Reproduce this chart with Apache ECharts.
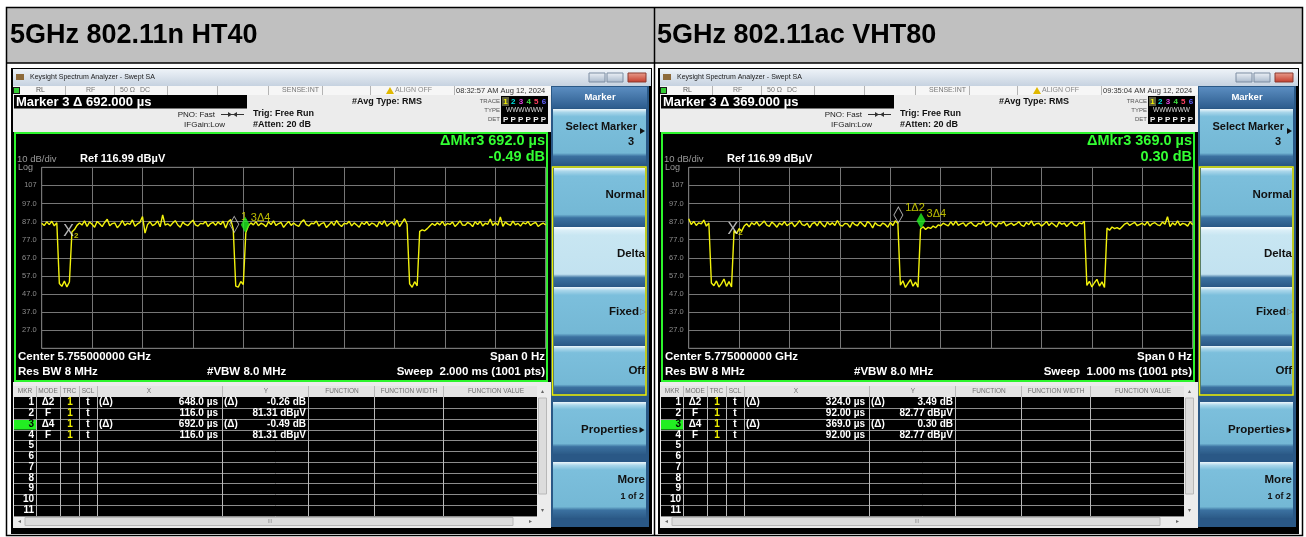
<!DOCTYPE html>
<html>
<head>
<meta charset="utf-8">
<title>5GHz 802.11n HT40 / 802.11ac VHT80</title>
<script src="https://cdn.jsdelivr.net/npm/echarts@6/dist/echarts.min.js"></script>
<style>
  html, body { margin: 0; padding: 0; background: #fff; }
  #chart { width: 1306px; height: 537px; }
</style>
</head>
<body>
<div id="chart"></div>
<script>
// ---------- data ----------
const refLevel = 116.99;          // dBµV, top of the screen
const dbPerDiv = 10;
const bottomLevel = refLevel - 10 * dbPerDiv;

// HT40, 2.000 ms sweep, trace sampled every 10 µs
const htSweepMs = 2.0;
const htTrace = [
  86.1, 84.8, 86.9, 85.3, 87.2, 84.6, 86.4, 52.8, 51.2, 54.1,
  50.9, 53.6, 81.3, 82.6, 84.9, 86.2, 85.1, 87.4, 84.3, 86.8,
  85.5, 83.9, 87.1, 85.8, 84.2, 86.5, 88.3, 84.7, 85.9, 86.3,
  83.6, 85.2, 87.6, 84.9, 86.1, 85.4, 87.9, 84.4, 85.7, 86.6,
  89.8, 80.6, 85.3, 86.9, 84.8, 85.6, 87.3, 84.1, 90.7, 85.0,
  85.8, 84.6, 86.2, 87.5, 85.1, 83.9, 86.7, 85.4, 84.8, 86.3,
  87.8, 85.2, 84.5, 86.0, 85.7, 87.1, 84.3, 85.9, 86.6, 84.9,
  86.8, 85.4, 87.2, 83.5, 86.9, 88.1, 83.0, 51.4, 50.8, 53.9,
  52.2, 80.9, 84.6, 86.3, 85.2, 87.0, 84.7, 86.1, 85.5, 84.2,
  86.9, 85.3, 87.4, 84.8, 85.9, 86.5, 83.8, 85.6, 87.1, 84.9,
  86.2, 85.0, 84.4, 86.7, 88.0, 85.3, 84.6, 86.1, 85.8, 87.3,
  84.5, 85.9, 86.4, 83.7, 85.2, 86.8, 84.9, 87.6, 85.5, 84.3,
  86.0, 85.7, 87.2, 84.6, 86.3, 85.1, 83.9, 86.5, 85.4, 87.0,
  84.8, 86.2, 85.6, 84.1, 86.9, 85.3, 87.5, 84.4, 85.8, 86.6,
  85.0, 87.8, 84.2, 86.4, 88.6, 85.5, 52.6, 50.7, 53.8, 51.5,
  81.6, 82.4, 81.9, 83.1, 84.6, 85.9, 84.8, 86.3, 85.2, 87.1,
  84.7, 86.0, 85.4, 86.8, 84.3, 85.7, 87.4, 85.1, 84.9, 86.5,
  85.8, 84.2, 86.9, 85.3, 87.2, 84.6, 86.1, 85.5, 88.4, 84.8,
  86.3, 85.0, 89.6, 84.4, 86.7, 85.6, 84.9, 87.3, 85.2, 86.0,
  84.5, 86.4, 85.7, 87.0, 84.8, 85.9, 86.6, 84.3, 85.4, 86.2,
  85.1
];

// VHT80, 1.000 ms sweep, trace sampled every 5 µs
const vhtSweepMs = 1.0;
const vhtTrace = [
  88.6, 85.4, 87.1, 84.9, 86.3, 85.7, 87.8, 84.5, 86.2, 53.1,
  51.6, 54.2, 50.8, 52.7, 55.3, 51.2, 53.8, 50.9, 82.1, 80.4,
  83.2, 81.7, 84.5, 85.8, 84.1, 86.4, 85.2, 86.9, 84.6, 85.9,
  87.3, 85.0, 84.4, 86.7, 85.5, 83.9, 86.2, 85.1, 87.0, 84.7,
  85.8, 86.4, 84.2, 85.6, 87.5, 85.3, 84.8, 86.1, 83.7, 85.9,
  86.5, 84.6, 87.2, 85.4, 84.0, 86.8, 85.2, 86.3, 84.9, 87.6,
  85.1, 84.5, 86.0, 85.7, 83.8, 86.6, 85.3, 84.7, 86.9, 85.5,
  84.2, 87.1, 85.8, 83.5, 86.4, 85.0, 84.6, 86.2, 85.4, 83.9,
  86.5, 84.8, 87.4, 86.0, 51.9, 54.3, 50.6, 52.8, 55.0, 51.3,
  53.6, 50.8, 82.9, 84.1, 82.6, 83.8, 83.2, 84.5, 83.6, 85.2,
  84.7, 86.1, 85.3, 84.6, 86.8, 85.0, 87.2, 84.9, 85.7, 86.3,
  84.4, 85.9, 86.6, 85.1, 84.3, 86.0, 85.6, 87.3, 84.8, 85.4,
  86.7, 85.2, 84.1, 86.3, 85.8, 87.0, 84.6, 85.5, 86.2, 84.9,
  85.7, 86.9, 85.0, 84.4, 86.5, 85.3, 87.4, 84.7, 85.9, 86.1,
  84.5, 85.6, 87.1, 84.8, 86.4, 85.2, 84.0, 86.7, 85.5, 86.2,
  84.3, 85.8, 86.9, 85.1, 84.6, 86.3, 85.7, 87.2, 51.7, 54.0,
  50.9, 53.2, 55.1, 51.4, 53.7, 50.6, 83.4, 82.2, 84.0, 83.1,
  83.7, 82.8, 84.2, 85.6, 86.3, 84.9, 85.8, 86.6, 84.7, 85.4,
  86.1, 85.0, 87.0, 84.6, 85.9, 86.4, 85.2, 84.8, 86.7, 85.5,
  89.7, 84.2, 86.3, 85.1, 87.4, 84.9, 86.0, 85.6, 84.5, 86.8,
  85.3
];

// marker table: X in ms, Y in dBµV (markers 1 and 3 are deltas to 2 and 4)
const htMkrX = [0.648, 0.116, 0.692, 0.116];
const htMkrY = [-0.26, 81.31, -0.49, 81.31];
const vhtMkrX = [0.324, 0.092, 0.369, 0.092];
const vhtMkrY = [3.49, 82.77, 0.30, 82.77];

const htRows = [
  ['1', 'Δ2', '1', 't', '(Δ)', '648.0 µs', '(Δ)', '-0.26 dB'],
  ['2', 'F', '1', 't', '', '116.0 µs', '', '81.31 dBµV'],
  ['3', 'Δ4', '1', 't', '(Δ)', '692.0 µs', '(Δ)', '-0.49 dB'],
  ['4', 'F', '1', 't', '', '116.0 µs', '', '81.31 dBµV']
];
const vhtRows = [
  ['1', 'Δ2', '1', 't', '(Δ)', '324.0 µs', '(Δ)', '3.49 dB'],
  ['2', 'F', '1', 't', '', '92.00 µs', '', '82.77 dBµV'],
  ['3', 'Δ4', '1', 't', '(Δ)', '369.0 µs', '(Δ)', '0.30 dB'],
  ['4', 'F', '1', 't', '', '92.00 µs', '', '82.77 dBµV']
];

const panels = [
  {
    title: '5GHz 802.11n HT40', dx: 0, sweepMs: htSweepMs, trace: htTrace,
    mkrX: htMkrX, mkrY: htMkrY, rows: htRows, mkr1Label: '1',
    markerText: 'Marker 3 Δ 692.000 µs', date: '08:32:57 AM Aug 12, 2024',
    dX: 'ΔMkr3 692.0 µs', dY: '-0.49 dB', center: 'Center 5.755000000 GHz',
    sweep: 'Sweep  2.000 ms (1001 pts)'
  },
  {
    title: '5GHz 802.11ac VHT80', dx: 647, sweepMs: vhtSweepMs, trace: vhtTrace,
    mkrX: vhtMkrX, mkrY: vhtMkrY, rows: vhtRows, mkr1Label: '1Δ2',
    markerText: 'Marker 3 Δ 369.000 µs', date: '09:35:04 AM Aug 12, 2024',
    dX: 'ΔMkr3 369.0 µs', dY: '0.30 dB', center: 'Center 5.775000000 GHz',
    sweep: 'Sweep  1.000 ms (1001 pts)'
  }
];

// ---------- drawing helpers for the instrument chrome ----------
const FONT = '"Liberation Sans", Arial, Helvetica, sans-serif';
const G = [];

function vgrad(stops) {
  return {
    type: 'linear', x: 0, y: 0, x2: 0, y2: 1,
    colorStops: stops.map(s => ({ offset: s[0], color: s[1] }))
  };
}
function box(x, y, w, h, fill, z, stroke) {
  G.push({
    type: 'rect', silent: true, z: z - 20,
    shape: { x: x, y: y, width: w, height: h },
    style: { fill: fill, stroke: stroke || null, lineWidth: stroke ? 1 : 0 }
  });
}
function frame(x, y, w, h, stroke, lw, z) {
  G.push({
    type: 'rect', silent: true, z: z - 20,
    shape: { x: x, y: y, width: w, height: h },
    style: { fill: null, stroke: stroke, lineWidth: lw }
  });
}
function seg(x1, y1, x2, y2, stroke, lw, z) {
  G.push({
    type: 'line', silent: true, z: z - 20,
    shape: { x1: x1, y1: y1, x2: x2, y2: y2 },
    style: { stroke: stroke, lineWidth: lw }
  });
}
function poly(points, fill, z) {
  G.push({ type: 'polygon', silent: true, z: z - 20, shape: { points: points }, style: { fill: fill } });
}
function txt(x, y, s, size, fill, o) {
  o = o || {};
  G.push({
    type: 'text', silent: true, z: (o.z == null ? 5 : o.z) - 20, x: x, y: y,
    style: {
      text: s, fill: fill,
      font: (o.bold ? 'bold ' : '') + size + 'px ' + FONT,
      align: o.align || 'left', verticalAlign: 'middle'
    }
  });
}

const btnBlue = [[0, '#eef7fb'], [0.06, '#a9d6ea'], [0.14, '#7cbfdc'], [0.8, '#74b8d5'], [0.86, '#3b71a0'], [1, '#2c5b88']];
const btnLight = [[0, '#ffffff'], [0.06, '#d9eef7'], [0.14, '#c8e6f2'], [0.8, '#c2e2f0'], [0.86, '#3b71a0'], [1, '#2c5b88']];
function softKey(x, y, w, h, light) {
  box(x, y, w, h, vgrad(light ? btnLight : btnBlue), 3);
}

// table layout of the document page
box(7, 8, 1295, 55, '#c0c0c0', 0);
frame(6.5, 7.5, 1296, 528, '#000', 1.5, 1);
seg(6.5, 63, 1302.5, 63, '#000', 1.5, 1);
seg(654.5, 7.5, 654.5, 535.5, '#000', 1.5, 1);

function buildPanel(p) {
  const X = v => v + p.dx;
  txt(X(10), 36, p.title, 27, '#000', { bold: true });

  // window frame and title bar
  box(X(11), 68, 641, 466, '#000', 2);
  box(X(13), 69, 638, 17, vgrad([[0, '#eef3f8'], [1, '#c6d2e0']]), 3);
  box(X(16), 74, 8, 6, '#8d6b3c', 4);
  txt(X(30), 77.5, 'Keysight Spectrum Analyzer - Swept SA', 7, '#1a1a1a');
  box(X(589), 73, 16, 9, vgrad([[0, '#eef2f7'], [1, '#a8b8cb']]), 4, '#7d8da2');
  box(X(607), 73, 16, 9, vgrad([[0, '#eef2f7'], [1, '#a8b8cb']]), 4, '#7d8da2');
  box(X(628), 73, 18, 9, vgrad([[0, '#eaa090'], [1, '#c23a2a']]), 4, '#8a3a30');

  // status line
  box(X(13), 86, 538, 9, '#f6f6f6', 3);
  box(X(13), 87, 7, 7, '#1a1a1a', 4);
  box(X(14), 88, 5, 5, '#33cc33', 5);
  [65, 114, 167, 217, 268, 322, 370, 454].forEach(sx => seg(X(sx) + 0.5, 86, X(sx) + 0.5, 95, '#b4b4b4', 1, 4));
  txt(X(36), 90.5, 'RL', 7, '#555');
  txt(X(86), 90.5, 'RF', 7, '#777');
  txt(X(120), 90.5, '50 Ω', 7, '#777');
  txt(X(140), 90.5, 'DC', 7, '#777');
  txt(X(319), 90.5, 'SENSE:INT', 7, '#777', { align: 'right' });
  poly([[X(386), 94], [X(390), 87], [X(394), 94]], '#e0b800', 5);
  txt(X(395), 90.5, 'ALIGN OFF', 7, '#888');
  txt(X(456), 90.5, p.date, 7.5, '#333');

  // measurement info area
  box(X(13), 95, 538, 37, '#ececec', 3);
  box(X(14), 95, 233, 13.5, '#000', 4);
  txt(X(16), 102, p.markerText, 13, '#fff', { bold: true });
  txt(X(215), 114.5, 'PNO: Fast', 8, '#222', { align: 'right' });
  seg(X(221), 114.5, X(244), 114.5, '#333', 1, 5);
  poly([[X(228), 112], [X(232), 114.5], [X(228), 117]], '#333', 5);
  poly([[X(237), 112], [X(233), 114.5], [X(237), 117]], '#333', 5);
  txt(X(225), 125, 'IFGain:Low', 8, '#222', { align: 'right' });
  txt(X(253), 113.5, 'Trig: Free Run', 9, '#111', { bold: true });
  txt(X(253), 124.5, '#Atten: 20 dB', 9, '#111', { bold: true });
  txt(X(352), 101.5, '#Avg Type: RMS', 9, '#111', { bold: true });
  txt(X(500), 101, 'TRACE', 6, '#555', { align: 'right' });
  txt(X(500), 110.5, 'TYPE', 6, '#555', { align: 'right' });
  txt(X(500), 119.5, 'DET', 6, '#555', { align: 'right' });
  box(X(501), 96, 47, 28, '#000', 4);
  box(X(502), 97, 7, 9, '#5a5a3a', 5);
  ['#f0f000', '#00e0e0', '#e040e0', '#40e040', '#ff4060', '#6060ff'].forEach((c, i) => {
    txt(X(505.5 + 7.7 * i), 101.5, String(i + 1), 8, c, { bold: true, align: 'center', z: 6 });
  });
  txt(X(524.5), 110.5, 'WWWWWW', 6.5, '#ddd', { align: 'center' });
  txt(X(524.5), 119.5, 'P P P P P P', 8, '#eee', { bold: true, align: 'center' });

  // graticule area
  box(X(14), 132, 535, 250, '#000', 3);
  frame(X(15), 133, 532, 248, '#2df52d', 2, 4);
  txt(X(545), 140.5, p.dX, 14.5, '#33ff33', { bold: true, align: 'right' });
  txt(X(545), 157, p.dY, 14.5, '#33ff33', { bold: true, align: 'right' });
  txt(X(17), 159.5, '10 dB/div', 9.5, '#9a9a9a');
  txt(X(80), 158.5, 'Ref 116.99 dBµV', 11, '#fff', { bold: true });
  txt(X(18), 168, 'Log', 9, '#9a9a9a');
  txt(X(18), 357, p.center, 11.5, '#fff', { bold: true });
  txt(X(18), 371.5, 'Res BW 8 MHz', 11.5, '#fff', { bold: true });
  txt(X(207), 371.5, '#VBW 8.0 MHz', 11.5, '#fff', { bold: true });
  txt(X(545), 357, 'Span 0 Hz', 11.5, '#fff', { bold: true, align: 'right' });
  txt(X(545), 371.5, p.sweep, 11.5, '#fff', { bold: true, align: 'right' });

  // marker table
  box(X(13), 382, 538, 146, '#ececec', 3);
  box(X(14), 386, 523, 11, '#e4e4e4', 4);
  box(X(14), 397, 523, 119, '#000', 4);
  const rowTop = 397.3, rowH = 10.75;
  box(X(14), rowTop + 2 * rowH + 0.5, 22, rowH - 0.5, '#22ee22', 5);
  for (let k = 1; k <= 11; k++) {
    const y = Math.round(rowTop + k * rowH) + 0.5;
    seg(X(14), y, X(537), y, '#8c8c8c', 1, 5);
  }
  [36, 60, 79, 97, 222, 308, 374, 443].forEach(cx => seg(X(cx) + 0.5, 386, X(cx) + 0.5, 516, '#b8b8b8', 1, 5));
  const head = [['MKR', 25], ['MODE', 48], ['TRC', 69.5], ['SCL', 88], ['X', 149], ['Y', 266],
    ['FUNCTION', 342], ['FUNCTION WIDTH', 409], ['FUNCTION VALUE', 496]];
  head.forEach(h => txt(X(h[1]), 391.5, h[0], 6.5, '#707070', { align: 'center' }));
  for (let i = 0; i < 11; i++) {
    txt(X(34), rowTop + rowH * (i + 0.5), String(i + 1), 10, i === 2 ? '#000' : '#fff', { bold: true, align: 'right', z: 6 });
  }
  p.rows.forEach((r, i) => {
    const y = rowTop + rowH * (i + 0.5);
    txt(X(48), y, r[1], 10, '#fff', { bold: true, align: 'center' });
    txt(X(70), y, r[2], 10, '#f0f000', { bold: true, align: 'center' });
    txt(X(88), y, r[3], 10, '#fff', { bold: true, align: 'center' });
    txt(X(99), y, r[4], 10, '#fff', { bold: true });
    txt(X(218), y, r[5], 10, '#fff', { bold: true, align: 'right' });
    txt(X(224), y, r[6], 10, '#fff', { bold: true });
    txt(X(306), y, r[7], 10, '#fff', { bold: true, align: 'right' });
  });
  // scroll bars
  box(X(537), 386, 11, 130, '#ececec', 4);
  box(X(538.5), 398, 8, 96, '#dcdcdc', 5, '#b8b8b8');
  txt(X(542.5), 391, '▴', 6, '#666', { align: 'center' });
  txt(X(542.5), 510, '▾', 6, '#666', { align: 'center' });
  box(X(14), 516, 534, 11, '#ececec', 4);
  box(X(25), 517.5, 488, 8, '#dcdcdc', 5, '#b8b8b8');
  txt(X(19), 521.5, '◂', 6, '#666', { align: 'center' });
  txt(X(530), 521.5, '▸', 6, '#666', { align: 'center' });
  txt(X(270), 521.5, 'III', 5, '#888', { align: 'center' });

  // soft key menu
  box(X(551), 86, 98, 441, '#2a5886', 3);
  box(X(552), 87, 95, 21, vgrad([[0, '#5b8dc1'], [1, '#2d5d8e']]), 4);
  txt(X(600), 97, 'Marker', 9.5, '#fff', { bold: true, align: 'center' });
  softKey(X(553), 109, 93, 55, false);
  txt(X(637), 127, 'Select Marker', 11, '#111', { bold: true, align: 'right' });
  txt(X(634), 142, '3', 11, '#111', { bold: true, align: 'right' });
  poly([[X(640), 128], [X(645), 131], [X(640), 134]], '#111', 6);
  softKey(X(554), 168, 91, 58, false);
  softKey(X(554), 227, 91, 59, true);
  softKey(X(554), 287, 91, 58, false);
  softKey(X(554), 346, 91, 48, false);
  frame(X(552.5), 167, 93.5, 228, '#f0f000', 1.5, 5);
  txt(X(645), 194.5, 'Normal', 11.5, '#111', { bold: true, align: 'right' });
  txt(X(645), 253.5, 'Delta', 11.5, '#111', { bold: true, align: 'right' });
  txt(X(639), 312, 'Fixed', 11.5, '#111', { bold: true, align: 'right' });
  txt(X(639.5), 312, '▷', 8, '#777');
  txt(X(645), 371, 'Off', 11.5, '#111', { bold: true, align: 'right' });
  softKey(X(553), 402, 93, 52, false);
  txt(X(638), 430, 'Properties', 11.5, '#111', { bold: true, align: 'right' });
  poly([[X(639.5), 427], [X(644.5), 430], [X(639.5), 433]], '#111', 6);
  softKey(X(553), 462, 93, 56, false);
  txt(X(645), 480, 'More', 11.5, '#111', { bold: true, align: 'right' });
  txt(X(644), 497, '1 of 2', 9, '#111', { bold: true, align: 'right' });
}
panels.forEach(buildPanel);

// ---------- the two sweeps, drawn through ECharts axes ----------
const grids = [], xAxes = [], yAxes = [], series = [];
panels.forEach((p, gi) => {
  grids.push({
    left: 41.7 + p.dx, top: 167.3, width: 504, height: 181,
    show: true, borderColor: '#7c7c7c', borderWidth: 1, backgroundColor: 'transparent'
  });
  xAxes.push({
    gridIndex: gi, type: 'value', min: 0, max: p.sweepMs, interval: p.sweepMs / 10,
    axisLine: { show: false }, axisTick: { show: false }, axisLabel: { show: false },
    splitLine: { show: true, lineStyle: { color: '#767676', width: 1 } }
  });
  yAxes.push({
    gridIndex: gi, type: 'value', min: bottomLevel, max: refLevel, interval: dbPerDiv,
    axisLine: { show: false }, axisTick: { show: false },
    axisLabel: {
      show: true, showMinLabel: false, showMaxLabel: false, margin: 5,
      color: '#8c8c8c', fontSize: 7.5, fontFamily: FONT,
      formatter: v => (v > 100 ? v.toFixed(0) : v.toFixed(1))
    },
    splitLine: { show: true, lineStyle: { color: '#767676', width: 1 } }
  });

  const n = p.trace.length;
  series.push({
    type: 'line', xAxisIndex: gi, yAxisIndex: gi, z: 3,
    showSymbol: false, symbol: 'none', silent: true,
    lineStyle: { color: '#f2f20c', width: 1.4 },
    data: p.trace.map((v, i) => [i * p.sweepMs / (n - 1), v])
  });

  const fixed = [p.mkrX[1], p.mkrY[1]];
  const m1 = [p.mkrX[1] + p.mkrX[0], p.mkrY[1] + p.mkrY[0]];
  const m3 = [p.mkrX[3] + p.mkrX[2], p.mkrY[3] + p.mkrY[2]];
  series.push({
    type: 'scatter', xAxisIndex: gi, yAxisIndex: gi, z: 5, silent: true,
    symbol: 'circle', symbolSize: 1, itemStyle: { color: 'transparent' },
    label: {
      show: true, position: 'inside', formatter: '{x|X}{s|2}',
      rich: {
        x: { fontSize: 16, color: '#e4e4e4', fontFamily: FONT },
        s: { fontSize: 8, color: '#e6e600', fontWeight: 'bold', fontFamily: FONT, padding: [8, 0, 0, 0] }
      }
    },
    data: [fixed]
  });
  series.push({
    type: 'scatter', xAxisIndex: gi, yAxisIndex: gi, z: 6, silent: true,
    symbol: 'diamond', symbolSize: [9, 16], symbolOffset: [0, '-50%'],
    itemStyle: { color: 'transparent', borderColor: '#cfcfcf', borderWidth: 1 },
    label: {
      show: true, position: 'right', distance: 2, offset: [0, -7],
      formatter: p.mkr1Label, color: '#e6e600', fontSize: 11, fontFamily: FONT
    },
    data: [m1]
  });
  series.push({
    type: 'scatter', xAxisIndex: gi, yAxisIndex: gi, z: 7, silent: true,
    symbol: 'diamond', symbolSize: [9, 16], symbolOffset: [0, '-50%'],
    itemStyle: { color: '#22f022' },
    label: {
      show: true, position: 'right', distance: 1, offset: [0, -7],
      formatter: '3Δ4', color: '#e6e600', fontSize: 11, fontFamily: FONT
    },
    data: [m3]
  });
});

const chart = echarts.init(document.getElementById('chart'));
chart.setOption({
  animation: false,
  backgroundColor: '#ffffff',
  graphic: { elements: G },
  grid: grids,
  xAxis: xAxes,
  yAxis: yAxes,
  series: series
});
window.addEventListener('resize', () => chart.resize());
</script>
</body>
</html>
